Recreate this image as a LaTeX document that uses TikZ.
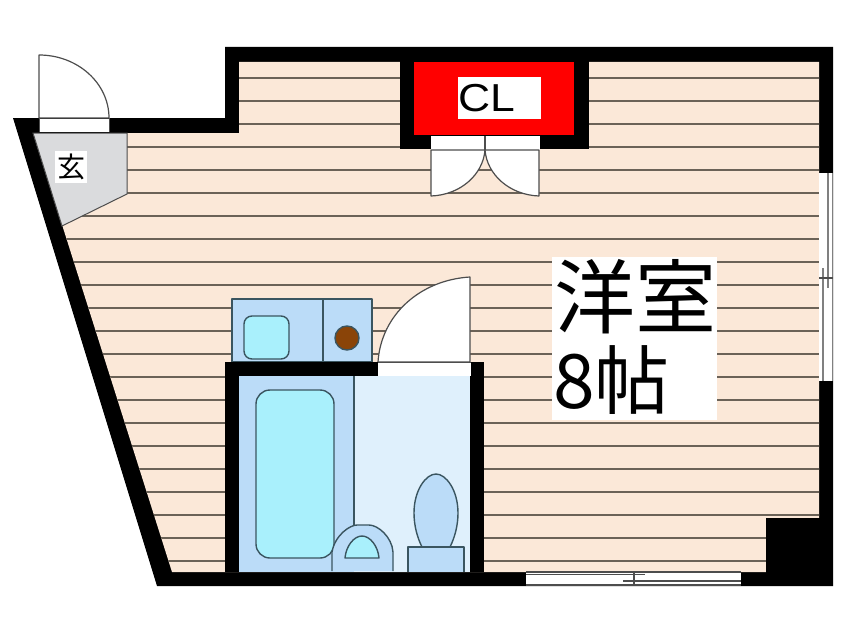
\documentclass[tikz,border=0pt]{standalone}
\usepackage{graphicx}
\usepackage{fontspec}
\setmainfont{Liberation Sans}
\newfontfamily\cjk{Noto Sans CJK JP}
\definecolor{floorc}{HTML}{FBE8D8}
\definecolor{linec}{HTML}{6B6257}
\definecolor{entc}{HTML}{DADBDD}
\definecolor{edgec}{HTML}{4D4D4D}
\definecolor{bluea}{HTML}{BBDCF8}
\definecolor{blueb}{HTML}{DFF0FC}
\definecolor{bluec}{HTML}{A9F0FC}
\definecolor{brownc}{HTML}{8A4408}
\definecolor{blueedge}{HTML}{3A5560}
\tikzset{
  wall/.style={fill=black,draw=none},
  fixture/.style={draw=blueedge,line width=1.4pt,line join=round},
  doorline/.style={draw=edgec,line width=1.2pt,fill=white,line join=round},
  slat/.style={draw=linec,line width=1.6pt},
  sash/.style={draw=edgec,line width=1.1pt},
  gap/.style={fill=white,draw=none}
}
\begin{document}
\begin{tikzpicture}[x=1pt,y=-1pt]
\useasboundingbox (0,0) rectangle (846,634);
\fill[white] (0,0) rectangle (846,634);
% walls (outer)
\fill[wall] (13,118) -- (225,118) -- (225,47) -- (833,47) -- (833,586) -- (157,586) -- cycle;
% floor
\begin{scope}
\clip (33,133) -- (239,133) -- (239,62) -- (819,62) -- (819,518) -- (766,518) -- (766,572) -- (172,572) -- cycle;
\fill[floorc] (0,0) rectangle (846,634);
\foreach \k in {0,...,21} \draw[slat] (0,78+23*\k) -- (846,78+23*\k);
\end{scope}
% entrance
\draw[fill=entc,draw=edgec,line width=1pt] (33,133) -- (127,133) -- (127,194) -- (62,226) -- cycle;
\node[fill=white,inner sep=0pt,minimum width=32pt,minimum height=32pt] (genkan) at (71,167) {\cjk\fontsize{28}{28}\selectfont 玄};
% entrance door
\fill[gap] (40,119) rectangle (109,132);
\draw[doorline] (39,118) -- (39,55) arc[start angle=90,end angle=0,x radius=70,y radius=-63] -- cycle;
\draw[edgec,line width=.8pt] (39,118) -- (39,132) (109,118) -- (109,132);
% closet
\fill[wall] (400,47) rectangle (589,149);
\fill[red] (414,62) rectangle (574,135);
\node[fill=white,inner sep=0pt,minimum width=83pt,minimum height=42pt] (clbg) at (499.5,98) {};
\node[anchor=west,inner sep=0pt,font=\fontsize{39}{39}\selectfont] (cl) at (458,98) {\scalebox{1.14}[1]{CL}};
\fill[gap] (431,136) rectangle (540,150);
\draw[doorline] (431,150) -- (431,196) .. controls (460,195) and (483,175) .. (485,150) -- cycle;
\draw[doorline] (539,150) -- (539,196) .. controls (510,195) and (487,175) .. (485,150) -- cycle;
\draw[edgec,line width=1.1pt] (485,136) -- (485,150);
% washer
\draw[fixture,fill=bluea] (232,299) rectangle (372,362);
\draw[fixture] (323,299) -- (323,362);
\draw[fixture,fill=bluec,rounded corners=8pt] (244,316) rectangle (289,359);
\draw[fixture,fill=brownc] (347,338) circle[radius=12];
% bathroom door leaf
\draw[doorline] (470,362) -- (470,277) .. controls (420,280) and (381,315) .. (378,362) -- cycle;
% bathroom walls
\fill[wall] (225,362) rectangle (484,572);
\fill[blueb] (239,376) rectangle (470,572);
\fill[bluea] (239,376) rectangle (354,572);
\draw[fixture] (354,376) -- (354,530);
\fill[gap] (378,362) rectangle (471,376);
\draw[edgec,line width=1pt] (378,362) -- (471,362);
% tub
\draw[fixture,fill=bluec,rounded corners=14pt] (256,390) rectangle (334,558);
% basin
\draw[fixture,fill=bluea] (332,571) -- (332,552) .. controls (335,535) and (350,525) .. (357,525) -- (369,525) .. controls (378,525) and (392,537) .. (393,552) -- (393,571);
\draw[fixture,fill=bluec] (345,558) .. controls (346,546) and (354,536) .. (362,536) .. controls (370,536) and (378,546) .. (379,558) -- cycle;
% toilet
\draw[fixture,fill=bluea] (422,547) .. controls (417,537) and (414,525) .. (414,513) .. controls (414,490) and (426,474) .. (436,474) .. controls (446,474) and (458,490) .. (458,513) .. controls (458,525) and (455,537) .. (450,547);
\draw[fixture,fill=bluea] (408,572) -- (408,547) -- (464,547) -- (464,572);
% corner column
\fill[wall] (766,518) rectangle (833,586);
% bottom window
\fill[gap] (526,572) rectangle (741,585);
\draw[sash] (526,572) -- (741,572) (526,585) -- (741,585);
\draw[sash] (526,574.5) -- (645,574.5) (623,581) -- (741,581) (634,572) -- (634,585);
% right window
\fill[gap] (819,173) rectangle (833,381);
\draw[draw=gray,line width=1.2pt] (832.5,173) -- (832.5,381);
\draw[draw=gray,line width=1.3pt] (828,173) -- (828,288) (823,268) -- (823,381);
\draw[sash] (819,278) -- (833,278);
% main label
\node[fill=white,inner sep=0pt,minimum width=165pt,minimum height=163pt] (roombg) at (634.5,338.5) {};
\node[anchor=west,inner sep=0pt,font=\cjk\fontsize{81}{81}\selectfont] (yoshitsu) at (554,297) {洋室};
\node[anchor=west,inner sep=0pt,font=\cjk\fontsize{75}{75}\selectfont] (jo) at (553,380) {8帖};
\end{tikzpicture}
\end{document}
